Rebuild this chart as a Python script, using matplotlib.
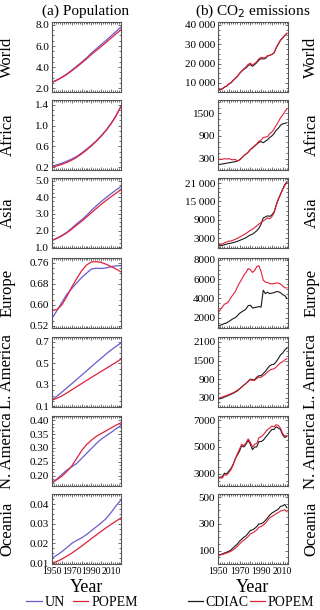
import numpy as np
import matplotlib
matplotlib.use('Agg')
import matplotlib.pyplot as plt
from matplotlib.ticker import AutoMinorLocator, MultipleLocator, FuncFormatter

plt.rcParams['font.family'] = ['Liberation Serif', 'DejaVu Serif']

regions = ['World', 'Africa', 'Asia', 'Europe', 'L. America', 'N. America', 'Oceania']

# population, billions, every 5 years
pop_years = [1950, 1955, 1960, 1965, 1970, 1975, 1980, 1985, 1990, 1995, 2000, 2005, 2010, 2015, 2020]

un_world = [2.54, 2.77, 3.03, 3.34, 3.70, 4.08, 4.46, 4.87, 5.33, 5.74, 6.14, 6.54, 6.96, 7.38, 7.79]
popem_world = [2.55, 2.76, 3.01, 3.30, 3.64, 4.00, 4.38, 4.77, 5.19, 5.58, 5.96, 6.35, 6.76, 7.16, 7.55]

un_africa = [0.225, 0.250, 0.280, 0.318, 0.360, 0.410, 0.474, 0.548, 0.626, 0.710, 0.808, 0.915, 1.040, 1.190, 1.370]
popem_africa = [0.205, 0.228, 0.258, 0.295, 0.338, 0.392, 0.458, 0.532, 0.612, 0.700, 0.800, 0.910, 1.040, 1.190, 1.370]

un_asia = [1.40, 1.54, 1.70, 1.89, 2.14, 2.40, 2.64, 2.90, 3.21, 3.48, 3.74, 3.98, 4.21, 4.43, 4.64]
popem_asia = [1.40, 1.53, 1.68, 1.86, 2.08, 2.32, 2.55, 2.80, 3.07, 3.32, 3.57, 3.81, 4.03, 4.24, 4.45]

un_europe = [0.549, 0.578, 0.610, 0.640, 0.662, 0.684, 0.704, 0.721, 0.737, 0.740, 0.739, 0.741, 0.746, 0.749, 0.750]
popem_europe = [0.580, 0.582, 0.600, 0.632, 0.668, 0.700, 0.730, 0.752, 0.764, 0.765, 0.762, 0.755, 0.746, 0.737, 0.726]

un_latam = [0.160, 0.195, 0.233, 0.272, 0.311, 0.350, 0.390, 0.430, 0.470, 0.510, 0.549, 0.588, 0.625, 0.659, 0.690]
popem_latam = [0.160, 0.176, 0.198, 0.225, 0.254, 0.283, 0.312, 0.341, 0.370, 0.398, 0.426, 0.454, 0.482, 0.510, 0.540]

un_noram = [0.172, 0.188, 0.205, 0.220, 0.232, 0.244, 0.262, 0.280, 0.298, 0.316, 0.332, 0.344, 0.356, 0.369, 0.381]
popem_noram = [0.178, 0.186, 0.198, 0.215, 0.235, 0.262, 0.290, 0.312, 0.328, 0.342, 0.352, 0.362, 0.372, 0.382, 0.391]

un_oceania = [0.0125, 0.0140, 0.0158, 0.0178, 0.0200, 0.0215, 0.0228, 0.0245, 0.0265, 0.0285, 0.0305, 0.0327, 0.0358, 0.0392, 0.0422]
popem_oceania = [0.0100, 0.0108, 0.0120, 0.0135, 0.0150, 0.0168, 0.0186, 0.0205, 0.0225, 0.0243, 0.0262, 0.0280, 0.0297, 0.0314, 0.0330]

# CO2 emissions, Mt CO2, every 2 years
co2_years = [1950, 1952, 1954, 1956, 1958, 1960, 1962, 1964, 1966, 1968, 1970, 1972, 1974, 1976, 1978, 1980, 1982,
             1984, 1986, 1988, 1990, 1992, 1994, 1996, 1998, 2000, 2002, 2004, 2006, 2008, 2010, 2012, 2014]

cdiac_world = [6000, 6500, 6900, 7800, 8300, 9400, 10000, 11200, 12300, 13400, 14900, 16000, 17000, 17800, 19000,
               19500, 18600, 19500, 20500, 21800, 22500, 22400, 22600, 23900, 24200, 24700, 25500, 28000, 30100,
               32000, 33200, 34500, 35600]
popem_co2_world = [6100, 6600, 7000, 7900, 8400, 9500, 10100, 11300, 12400, 13500, 15000, 16200, 17300, 18300, 19600,
                   20200, 19300, 20000, 21000, 22500, 23200, 23000, 23000, 24100, 24300, 24800, 25600, 28100, 30200,
                   32100, 33300, 34600, 35700]

cdiac_africa = [140, 150, 160, 170, 180, 190, 200, 210, 220, 240, 270, 320, 380, 420, 470, 540, 580, 630, 680, 730,
                750, 720, 760, 800, 860, 900, 960, 1050, 1100, 1180, 1220, 1230, 1250]
popem_co2_africa = [260, 290, 280, 300, 290, 300, 280, 270, 280, 240, 260, 320, 380, 420, 470, 540, 590, 640, 690, 760,
                    790, 860, 870, 880, 960, 1000, 1080, 1180, 1270, 1380, 1450, 1540, 1620]

cdiac_asia = [400, 500, 600, 800, 1000, 1200, 1300, 1500, 1700, 1900, 2200, 2500, 2800, 3100, 3600, 4000, 4300, 4800,
              5400, 6200, 7600, 9600, 9900, 10300, 10100, 10600, 11500, 13800, 15800, 17400, 19000, 20500, 21500]
popem_co2_asia = [700, 900, 1100, 1400, 1700, 2000, 2000, 2300, 2600, 2900, 3300, 3700, 4100, 4500, 5000, 5500, 5900,
                  6400, 7000, 7600, 8100, 8600, 9100, 9600, 9300, 10000, 11200, 13600, 15600, 17200, 18800, 20200, 21200]

cdiac_europe = [1100, 1200, 1300, 1400, 1450, 1600, 1750, 1900, 2000, 2200, 2450, 2600, 2750, 2900, 3250, 3300, 3000,
                3050, 3100, 3150, 3100, 4850, 4500, 4650, 4500, 4550, 4600, 4700, 4700, 4600, 4400, 4300, 4000]
popem_co2_europe = [2500, 2800, 3100, 3400, 3500, 3700, 4100, 4400, 4700, 5200, 5600, 6000, 6400, 6700, 7100, 7000, 6700,
                    6900, 7300, 7400, 6800, 5900, 5700, 5650, 5550, 5500, 5550, 5600, 5600, 5500, 5300, 5100, 5100]

cdiac_latam = [250, 270, 290, 320, 350, 380, 410, 440, 480, 520, 580, 640, 710, 760, 830, 900, 880, 880, 960, 1010,
               1010, 1080, 1150, 1250, 1330, 1370, 1380, 1460, 1560, 1680, 1740, 1840, 1900]
popem_co2_latam = [280, 300, 320, 350, 370, 400, 430, 460, 500, 540, 590, 650, 710, 760, 820, 880, 860, 860, 920, 960,
                   960, 1010, 1060, 1130, 1190, 1220, 1230, 1290, 1360, 1430, 1460, 1520, 1560]

cdiac_noram = [2750, 2750, 2800, 3050, 3000, 3200, 3400, 3700, 4100, 4400, 4700, 5100, 5000, 5200, 5500, 5200, 4800,
               5000, 5000, 5400, 5400, 5500, 5700, 5900, 6100, 6300, 6300, 6500, 6400, 6300, 5900, 5700, 5800]
popem_co2_noram = [2650, 2700, 2700, 2950, 2900, 3100, 3300, 3650, 4100, 4500, 4850, 5200, 5100, 5300, 5600, 5350, 5000,
                   5200, 5250, 5700, 5750, 5900, 6100, 6300, 6400, 6550, 6500, 6650, 6600, 6400, 6000, 5800, 5850]

cdiac_oceania = [65, 70, 75, 82, 88, 95, 105, 120, 135, 150, 170, 185, 200, 210, 230, 250, 255, 265, 280, 300, 300,
                 310, 325, 345, 365, 380, 390, 400, 410, 430, 435, 445, 420]
popem_co2_oceania = [63, 67, 71, 76, 82, 88, 95, 105, 118, 132, 150, 165, 178, 190, 205, 225, 232, 242, 255, 275, 280,
                     290, 305, 325, 345, 355, 365, 375, 385, 395, 400, 405, 390]

pop_un = [un_world, un_africa, un_asia, un_europe, un_latam, un_noram, un_oceania]
pop_popem = [popem_world, popem_africa, popem_asia, popem_europe, popem_latam, popem_noram, popem_oceania]
co2_cdiac = [cdiac_world, cdiac_africa, cdiac_asia, cdiac_europe, cdiac_latam, cdiac_noram, cdiac_oceania]
co2_popem = [popem_co2_world, popem_co2_africa, popem_co2_asia, popem_co2_europe, popem_co2_latam,
             popem_co2_noram, popem_co2_oceania]

pop_ticks = [[2.0, 4.0, 6.0, 8.0], [0.2, 0.6, 1.0, 1.4], [1.0, 2.0, 3.0, 4.0, 5.0], [0.52, 0.60, 0.68, 0.76],
             [0.1, 0.3, 0.5, 0.7], [0.20, 0.25, 0.30, 0.35, 0.40], [0.01, 0.02, 0.03, 0.04]]
pop_ylims = [(1.63, 8.28), (0.15, 1.49), (0.95, 5.15), (0.512, 0.779), (0.095, 0.745), (0.163, 0.415),
             (0.0095, 0.0452)]
pop_fmt = ['%.1f', '%.1f', '%.1f', '%.2f', '%.1f', '%.2f', '%.2f']

co2_ticks = [[10000, 20000, 30000, 40000], [300, 900, 1500], [3000, 9000, 15000, 21000], [2000, 4000, 6000, 8000],
             [300, 900, 1500, 2100], [3000, 5000, 7000], [100, 300, 500]]
co2_ylims = [(5300, 41500), (0, 1850), (-270, 22700), (930, 8200), (0, 2260), (2100, 7300), (0, 523)]

blue = '#6a5acd'
red = '#e0203a'


def co2_label(v, pos):
    v = int(round(v))
    if v >= 10000:
        return '{:,}'.format(v).replace(',', ' ')
    return str(v)


def style(ax):
    ax.tick_params(which='both', direction='in', top=True, right=True, labelsize=8, pad=2,
                   color='#555555', width=0.6)
    ax.tick_params(axis='x', labelsize=7)
    ax.tick_params(which='major', length=2.5)
    ax.tick_params(which='minor', length=1.3)
    ax.xaxis.set_major_locator(MultipleLocator(10))
    ax.xaxis.set_minor_locator(MultipleLocator(2))
    ax.yaxis.set_minor_locator(AutoMinorLocator(4))
    for s in ax.spines.values():
        s.set_color('#555555')
        s.set_linewidth(0.8)


def year_label(v, pos):
    v = int(round(v))
    return str(v) if (v - 1950) % 20 == 0 else ''


fig = plt.figure(figsize=(3.2, 6.1), dpi=100)
W, H = 320.0, 610.0
tops = [22, 100, 178, 258, 337, 416, 494]
ph = 70

for i, name in enumerate(regions):
    b = 1 - (tops[i] + ph) / H
    axl = fig.add_axes([52 / W, b, 69 / W, ph / H])
    axr = fig.add_axes([218 / W, b, 70 / W, ph / H])

    axl.plot(pop_years, pop_un[i], color=blue, lw=0.9)
    axl.plot(pop_years, pop_popem[i], color=red, lw=0.9)
    axl.set_xlim(1950, 2020)
    axl.set_ylim(*pop_ylims[i])
    axl.set_yticks(pop_ticks[i])
    axl.yaxis.set_major_formatter(FuncFormatter(lambda v, p, f=pop_fmt[i]: f % v))
    style(axl)
    axl.set_ylabel(name, fontsize=12)
    axl.yaxis.set_label_coords(-0.53, 0.5)

    axr.plot(co2_years, co2_cdiac[i], color='#1a1a1a', lw=0.8)
    axr.plot(co2_years, co2_popem[i], color=red, lw=0.8)
    axr.set_xlim(1950, 2015)
    axr.set_ylim(*co2_ylims[i])
    axr.set_yticks(co2_ticks[i])
    axr.yaxis.set_major_formatter(FuncFormatter(co2_label))
    style(axr)
    axr.yaxis.set_label_position('right')
    axr.set_ylabel(name, fontsize=12, rotation=90)
    axr.yaxis.set_label_coords(1.22, 0.5)

    for ax in (axl, axr):
        if i < len(regions) - 1:
            ax.set_xticklabels([])
        else:
            ax.xaxis.set_major_formatter(FuncFormatter(year_label))
            ax.set_xlabel('Year', fontsize=13, labelpad=2)

fig.text(86 / W, 1 - 11 / H, '(a) Population', ha='center', va='center', fontsize=11)
fig.text(253 / W, 1 - 11 / H, '(b) CO$_2$ emissions', ha='center', va='center', fontsize=11)

h1, = plt.plot([], [], color=blue, lw=0.9)
h2, = plt.plot([], [], color=red, lw=0.9)
h3, = plt.plot([], [], color='#1a1a1a', lw=0.9)
fig.legend([h1, h2], ['UN', 'POPEM'], loc='center', bbox_to_anchor=(82 / W, 1 - 602 / H), ncol=2,
           frameon=False, fontsize=10, handlelength=1.1, handletextpad=0.2, columnspacing=0.6,
           borderpad=0, borderaxespad=0)
fig.legend([h3, h2], ['CDIAC', 'POPEM'], loc='center', bbox_to_anchor=(251 / W, 1 - 602 / H), ncol=2,
           frameon=False, fontsize=10, handlelength=1.1, handletextpad=0.15, columnspacing=0.1,
           borderpad=0, borderaxespad=0)

fig.savefig('out.png', dpi=100)
